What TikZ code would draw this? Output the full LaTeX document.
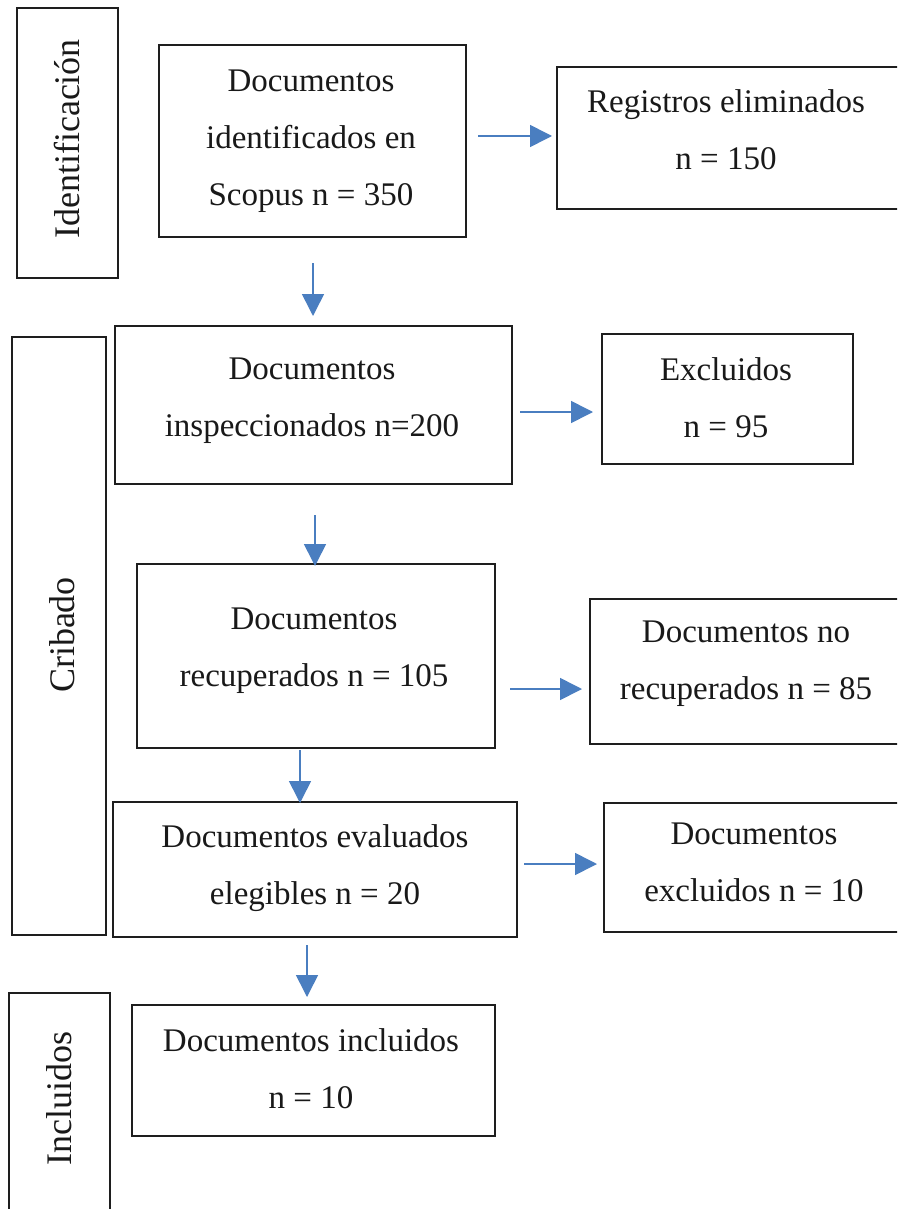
\documentclass[tikz,border=0pt]{standalone}
\usepackage{fontspec}
\setmainfont{Liberation Serif}
\usetikzlibrary{arrows.meta}
\definecolor{arrowblue}{RGB}{74,126,192}
\definecolor{boxline}{RGB}{30,30,30}
\tikzset{
  box/.style={draw=boxline, line width=1.8pt, rectangle, inner sep=0pt, outer sep=0pt},
  txt/.style={font=\fontsize{33}{57}\selectfont, align=center, inner sep=0pt, text=black!90},
  vtxt/.style={font=\fontsize{36}{57}\selectfont, rotate=90, inner sep=0pt, text=black!90},
  flow/.style={draw=arrowblue, line width=1.6pt, -{Triangle[length=22pt,width=22pt]}}
}
\begin{document}
\begin{tikzpicture}[x=1pt,y=-1pt]
\useasboundingbox (0,0) rectangle (897,1209);
\clip (0,0) rectangle (897,1209);
\fill[white] (0,0) rectangle (897,1209);
% phase boxes
\node[box, minimum width=101pt, minimum height=270pt] (idb) at (67.5,143) {};
\node[vtxt] (idt) at (67,139) {Identificación};
\node[box, minimum width=94pt, minimum height=598pt] (crb) at (59,636) {};
\node[vtxt] (crt) at (62,635) {Cribado};
\node[box, minimum width=101pt, minimum height=260pt] (inb) at (59.5,1123) {};
\node[vtxt] (int) at (59,1098) {Incluidos};
% main column
\node[box, minimum width=307pt, minimum height=192pt] (b1) at (312.5,141) {};
\node[txt] (t1) at (311,141) {Documentos\\identificados en\\Scopus n = 350};
\node[box, minimum width=397pt, minimum height=158pt] (b2) at (313.5,405) {};
\node[txt] (t2) at (312,401) {Documentos\\inspeccionados n=200};
\node[box, minimum width=358pt, minimum height=184pt] (b3) at (316,656) {};
\node[txt] (t3) at (314,651) {Documentos\\recuperados n = 105};
\node[box, minimum width=404pt, minimum height=135pt] (b4) at (315,869.5) {};
\node[txt] (t4) at (315,868) {Documentos evaluados\\elegibles n = 20};
\node[box, minimum width=363pt, minimum height=131pt] (b5) at (313.5,1070.5) {};
\node[txt] (t5) at (311,1069) {Documentos incluidos\\n = 10};
% side boxes
\node[box, minimum width=383pt, minimum height=142pt] (r1) at (748.5,138) {};
\node[txt] (s1) at (726,130) {Registros eliminados\\n = 150};
\node[box, minimum width=251pt, minimum height=130pt] (r2) at (727.5,399) {};
\node[txt] (s2) at (726,398) {Excluidos\\n = 95};
\node[box, minimum width=350pt, minimum height=145pt] (r3) at (765,671.5) {};
\node[txt] (s3) at (746,664) {Documentos no\\recuperados n = 85};
\node[box, minimum width=336pt, minimum height=129pt] (r4) at (772,867.5) {};
\node[txt] (s4) at (754,862) {Documentos\\excluidos n = 10};
% arrow end points
\coordinate (a1s) at (478,136); \coordinate (a1e) at (552,136);
\coordinate (d1s) at (313,263); \coordinate (d1e) at (313,316);
\coordinate (a2s) at (520,412); \coordinate (a2e) at (593,412);
\coordinate (d2s) at (315,515); \coordinate (d2e) at (315,566);
\coordinate (a3s) at (510,689); \coordinate (a3e) at (582,689);
\coordinate (d3s) at (300,750); \coordinate (d3e) at (300,803);
\coordinate (a4s) at (524,864); \coordinate (a4e) at (597,864);
\coordinate (d4s) at (307,945); \coordinate (d4e) at (307,997);
\draw[flow] (a1s) -- (a1e);
\draw[flow] (d1s) -- (d1e);
\draw[flow] (a2s) -- (a2e);
\draw[flow] (d2s) -- (d2e);
\draw[flow] (a3s) -- (a3e);
\draw[flow] (d3s) -- (d3e);
\draw[flow] (a4s) -- (a4e);
\draw[flow] (d4s) -- (d4e);
\end{tikzpicture}
\end{document}
